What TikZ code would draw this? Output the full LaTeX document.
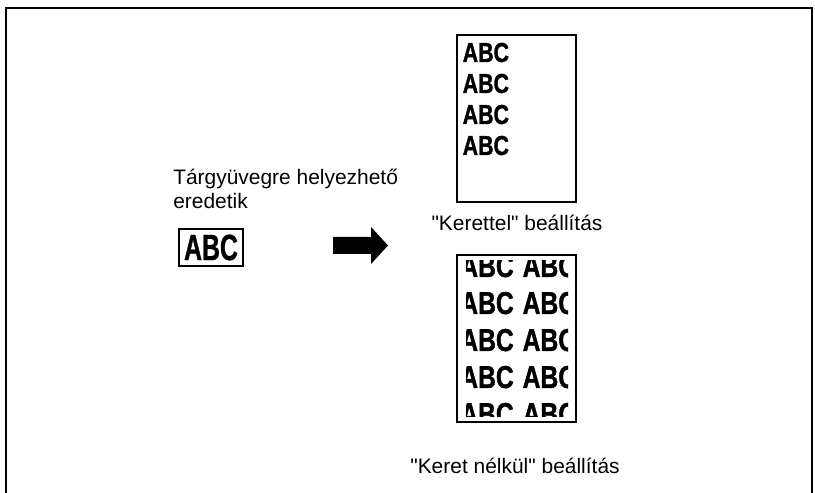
\documentclass[tikz,border=0pt]{standalone}
\usepackage{fontspec}
\setmainfont{Liberation Sans}[Ligatures=TeXOff]
\newfontfamily\abcfont[FakeStretch=0.78,FakeBold=1.2]{Liberation Sans}
\newfontfamily\abcnarrowfont[FakeStretch=0.68,FakeBold=0.8]{Liberation Sans}
\usetikzlibrary{positioning}

\begin{document}
\begin{tikzpicture}[
    lbl/.style={inner sep=0pt, font=\fontsize{14.9}{17.1}\selectfont},
    abcsmall/.style={inner sep=0pt, anchor=base west, font=\abcfont\bfseries\fontsize{19.5}{19.5}\selectfont},
    abcbig/.style={inner sep=0pt, anchor=base west, font=\abcfont\bfseries\fontsize{22.5}{22.5}\selectfont},
    page/.style={draw, line width=1.1pt, inner sep=0pt, minimum width=2.975cm, minimum height=4.175cm}]
    \useasboundingbox (0,0) rectangle (20.375,12.325);
    \draw[line width=1.4pt] (0.15,0) |- (20.3,12.125) -- (20.3,0);

    \node[lbl, anchor=north west, align=left] (origlbl) at (4.325,8.11) {Tárgyüvegre helyezhető\\eredetik};
    \node[draw, line width=1.6pt, minimum width=1.6cm, minimum height=0.925cm, inner sep=0pt,
          font=\abcnarrowfont\bfseries\fontsize{26}{26}\selectfont] (orig) at (5.275,6.1375) {ABC};
    \fill (8.325,6.4) -- (9.275,6.4) -- (9.275,6.65) -- (9.7,6.1875) -- (9.275,5.725) -- (9.275,5.975) -- (8.325,5.975) -- cycle;

    \node[page] (framed) at (12.9125,9.3625) {};
    \foreach \r in {0,...,3}
        \node[abcsmall] (ft\r) at (11.56,10.775-0.775*\r) {ABC};
    \node[lbl, anchor=base] (framedlbl) at (12.925,6.55) {"Kerettel" beállítás};

    \node[page] (borderless) at (12.9125,3.8625) {};
    \begin{scope}
        \clip (11.65,1.9) rectangle (14.2,5.8);
        \foreach \r in {0,...,4}
            \foreach \c in {0,1}
                \node[abcbig] (bl\r\c) at (11.5+1.56*\c,5.4-0.925*\r) {ABC};
    \end{scope}
    \node[lbl, anchor=base] (borderlesslbl) at (12.875,0.475) {"Keret nélkül" beállítás};
\end{tikzpicture}
\end{document}
